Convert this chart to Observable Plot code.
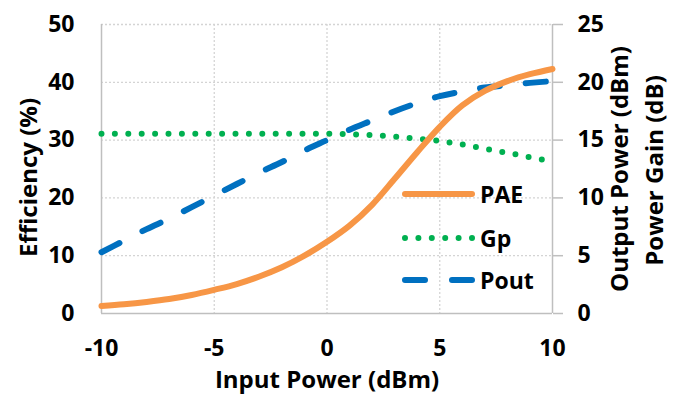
<!DOCTYPE html>
<html><head><meta charset="utf-8">
<script src="https://cdn.jsdelivr.net/npm/d3@7"></script>
<script src="https://cdn.jsdelivr.net/npm/@observablehq/plot@0.6"></script>
<style>
body{margin:0;background:#fff;}
#wrap{position:relative;width:681px;height:394px;}
.leg{position:absolute;left:400px;height:30px;display:flex;align-items:center;font:bold 23px "Open Sans",sans-serif;color:#000;}
.leg svg{display:block;}
</style></head><body><div id="wrap"></div>
<script>
const inputPower = [-10,-9,-8,-7,-6,-5,-4,-3,-2,-1,0,1,2,3,4,5,6,7,8,9,10];
const pae  = [1.3,1.6,2.0,2.5,3.2,4.1,5.1,6.4,8.0,10.0,12.4,15.2,18.8,23.3,27.9,32.3,36.0,38.5,40.2,41.4,42.3];
const gp   = [15.55,15.55,15.55,15.55,15.55,15.55,15.55,15.55,15.55,15.55,15.55,15.5,15.43,15.3,15.13,14.92,14.62,14.25,13.9,13.52,13.15];
const pout = [5.3,6.3,7.3,8.2,9.2,10.2,11.2,12.2,13.1,14.1,15.0,15.9,16.7,17.5,18.2,18.8,19.2,19.55,19.75,19.95,20.1];
const xTicks = [-10,-5,0,5,10];
const leftTicks = [0,10,20,30,40,50];
const rightTicks = [0,5,10,15,20,25];
const seriesNames = ["PAE","Gp","Pout"];
const seriesColors = ["#F79646","#00B050","#0070C0"];

const ratio = 2; // left-axis units per right-axis unit
const table = inputPower.map((x,i)=>({x, pae:pae[i], gp:gp[i]*ratio, pout:pout[i]*ratio}));
const font = "'Open Sans', sans-serif";
const grid = "#d4d4d4", axisCol = "#bfbfbf";
const title = {fontSize:24, fontWeight:"bold", fill:"#000", textAnchor:"middle", lineAnchor:"middle"};

const chart = Plot.plot({
  width:681, height:394,
  marginLeft:101, marginRight:129, marginTop:24, marginBottom:81,
  style:{fontFamily:font, fontSize:"23px", fontWeight:"bold", color:"#000", background:"#fff", overflow:"visible"},
  x:{domain:[-10,10], label:null},
  y:{domain:[0,50], label:null},
  marks:[
    Plot.ruleY(leftTicks.filter(d=>d>0), {stroke:grid, strokeDasharray:"2,2", strokeWidth:1.3}),
    Plot.ruleX(xTicks.filter(d=>d>-10 && d<10), {stroke:grid, strokeDasharray:"2,2", strokeWidth:1.3}),
    Plot.ruleX([-10], {stroke:axisCol, strokeWidth:1.5}),
    Plot.ruleX([10], {stroke:axisCol, strokeWidth:1.5}),
    Plot.ruleY([0], {stroke:axisCol, strokeWidth:1.5}),
    Plot.axisX({ticks:xTicks, tickSize:0, tickPadding:26, label:null, tickFormat:d=>String(d).replace("−","-")}),
    Plot.axisY({anchor:"left", ticks:leftTicks, tickSize:0, tickPadding:27, label:null}),
    Plot.axisY({anchor:"right", ticks:rightTicks.map(d=>d*ratio), tickFormat:d=>d/ratio, tickSize:10, tickPadding:15, stroke:axisCol, strokeWidth:1.5, label:null, textAnchor:"start"}),
    Plot.line(table, {x:"x", y:"gp", stroke:seriesColors[1], strokeWidth:6, strokeDasharray:"0,13.4", strokeLinecap:"round", curve:"catmull-rom"}),
    Plot.line(table, {x:"x", y:"pout", stroke:seriesColors[2], strokeWidth:6, strokeDasharray:"20,26", strokeLinecap:"round", curve:"catmull-rom"}),
    Plot.line(table, {x:"x", y:"pae", stroke:seriesColors[0], strokeWidth:6, curve:"catmull-rom"}),
    Plot.text(["Efficiency (%)"], {...title, frameAnchor:"left", dx:-72.5, dy:8.5, rotate:-90}),
    Plot.text(["Output Power (dBm)"], {...title, frameAnchor:"right", dx:68, dy:0, rotate:-90}),
    Plot.text(["Power Gain (dB)"], {...title, frameAnchor:"right", dx:103, dy:1.5, rotate:-90}),
    Plot.text(["Input Power (dBm)"], {...title, frameAnchor:"bottom", dy:66.5})
  ]
});
const wrap = document.getElementById("wrap");
wrap.appendChild(chart);

const legTops = [194,238,280];
const dashes = [null,"0,13.4","20,27"];
seriesNames.forEach((name,i)=>{
  const div = document.createElement("div");
  div.className = "leg";
  div.style.top = (legTops[i]-15)+"px";
  const ns = "http://www.w3.org/2000/svg";
  const svg = document.createElementNS(ns,"svg");
  svg.setAttribute("width","80"); svg.setAttribute("height","12");
  const ln = document.createElementNS(ns,"line");
  ln.setAttribute("x1","5"); ln.setAttribute("x2","72");
  ln.setAttribute("y1","6"); ln.setAttribute("y2","6");
  ln.setAttribute("stroke",seriesColors[i]); ln.setAttribute("stroke-width","6");
  ln.setAttribute("stroke-linecap","round");
  if (dashes[i]) ln.setAttribute("stroke-dasharray",dashes[i]);
  svg.appendChild(ln);
  div.appendChild(svg);
  const span = document.createElement("span");
  span.textContent = name;
  div.appendChild(span);
  wrap.appendChild(div);
});
</script>
</body></html>
